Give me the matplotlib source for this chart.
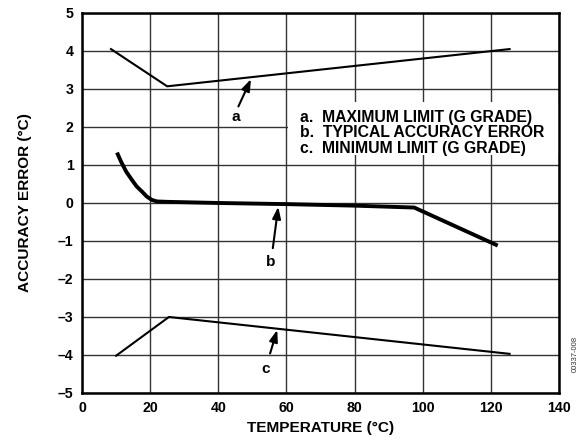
import matplotlib
matplotlib.use("Agg")
import matplotlib.pyplot as plt
from matplotlib.patches import Rectangle
from matplotlib.font_manager import FontProperties

plt.rcParams['axes.unicode_minus'] = True
BOLD = '/usr/share/fonts/truetype/liberation/LiberationSans-Bold.ttf'
fp_tick = FontProperties(fname=BOLD, size=10.2)
fp_lab = FontProperties(fname=BOLD, size=11.1)
fp_leg = FontProperties(fname=BOLD, size=11.3)

# curve a: maximum limit (G grade)
max_t = [8.5, 25, 125.5]
max_err = [4.05, 3.07, 4.05]

# curve b: typical accuracy error
typ_t = [10.5, 11.5, 13, 14.7, 16, 17.6, 19, 20.5, 22, 25, 40, 60, 80, 97.5, 121.5]
typ_err = [1.28, 1.08, 0.82, 0.6, 0.44, 0.30, 0.17, 0.08, 0.04, 0.03, 0.0, -0.03, -0.07, -0.12, -1.1]

# curve c: minimum limit (G grade)
min_t = [10, 25.5, 125.5]
min_err = [-4.02, -3.0, -3.97]

xticks = [0, 20, 40, 60, 80, 100, 120, 140]
yticks = [-5, -4, -3, -2, -1, 0, 1, 2, 3, 4, 5]
legend_lines = ["a.  MAXIMUM LIMIT (G GRADE)",
                "b.  TYPICAL ACCURACY ERROR",
                "c.  MINIMUM LIMIT (G GRADE)"]

fig = plt.figure(figsize=(5.78, 4.43), dpi=100)
ax = fig.add_axes([0.1419, 0.1129, 0.8252, 0.8578])

ax.set_xlim(0, 140)
ax.set_ylim(-5, 5)
ax.set_xticks(xticks)
ax.set_xticklabels([str(v) for v in xticks], fontproperties=fp_tick)
ax.set_yticks(yticks)
ax.set_yticklabels([str(v).replace('-', '\u2013') for v in yticks], fontproperties=fp_tick)
ax.tick_params(length=0, pad=6)
ax.grid(True, color='#333333', linewidth=1.0)
ax.set_axisbelow(True)
for s in ax.spines.values():
    s.set_linewidth(1.8)

# white box behind legend text
ax.add_patch(Rectangle((60.5, 1.25), 79.5, 1.4, facecolor='white', edgecolor='none', zorder=1.5))

ax.plot(max_t, max_err, color='black', linewidth=1.5, zorder=3)
ax.plot(typ_t, typ_err, color='black', linewidth=2.8, zorder=3)
ax.plot(min_t, min_err, color='black', linewidth=1.5, zorder=3)

arrow = dict(arrowstyle='-|>,head_length=0.7,head_width=0.25', color='black', lw=1.5, shrinkA=0, shrinkB=0)
ax.annotate('', xy=(49.6, 3.26), xytext=(45.9, 2.54), arrowprops=arrow, zorder=4)
ax.annotate('', xy=(57.6, -0.1), xytext=(56, -1.19), arrowprops=arrow, zorder=4)
ax.annotate('', xy=(57.3, -3.34), xytext=(55.2, -3.96), arrowprops=arrow, zorder=4)
ax.text(45.2, 2.26, 'a', ha='center', va='center', fontproperties=fp_lab)
ax.text(55.5, -1.54, 'b', ha='center', va='center', fontproperties=fp_lab)
ax.text(54, -4.38, 'c', ha='center', va='center', fontproperties=fp_lab)

for i, line in enumerate(legend_lines):
    ax.text(64, 2.26 - 0.41 * i, line, ha='left', va='center', zorder=4, fontproperties=fp_leg)

ax.set_xlabel('TEMPERATURE (°C)', labelpad=4, fontproperties=fp_lab)
ax.set_ylabel('ACCURACY ERROR (°C)', labelpad=19, fontproperties=fp_lab)

fig.text(0.995, 0.2, '00337-008', rotation=90, fontsize=5.5, color='#333333',
         family='Liberation Sans', ha='center', va='center')

fig.savefig('out.png', dpi=100)
